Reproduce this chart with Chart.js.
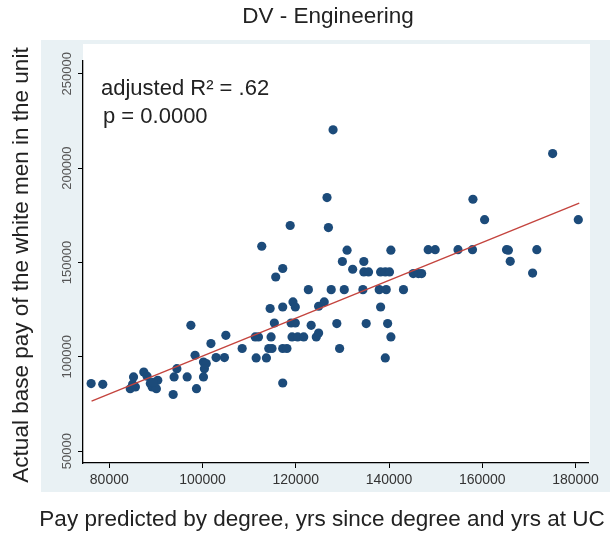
<!DOCTYPE html>
<html>
<head>
<meta charset="utf-8">
<title>DV - Engineering</title>
<script src="https://cdn.jsdelivr.net/npm/chart.js@4.4.1/dist/chart.umd.min.js"></script>
<style>
  html, body { margin: 0; padding: 0; background: #fff; }
  #wrap { width: 610px; height: 534px; }
</style>
</head>
<body>
<div id="wrap"><canvas id="chart" width="610" height="534"></canvas></div>
<script>
// --- data ---
const predictedPay = [
  76100, 78600, 85200, 84500, 85600, 85000, 87400, 88100, 88800, 89200,
  90400, 90100, 89400, 93700, 93900, 94500, 96700, 97500, 98400, 98700,
  100200, 100800, 100400, 100200, 101800, 102900, 104700, 105000, 108500, 111500,
  111300, 112000, 112700, 113700, 114200, 114500, 114700, 114900, 115400, 115700,
  117200, 117200, 117200, 118100, 117200, 118800, 119400, 119900, 119000, 119900,
  119200, 120400, 121700, 122700, 123300, 124400, 124900, 124900, 126100, 126700,
  127000, 127600, 128000, 128800, 129400, 130000, 130400, 131000, 132200, 134400,
  134600, 134600, 135600, 135100, 137900, 138200, 138200, 139200, 140100, 139200,
  139400, 139700, 140400, 140400, 143100, 145200, 146300, 147000, 148400, 149900,
  154800, 157900, 158000, 160500, 165200, 165600, 166000, 170800, 171700, 175100,
  180600
];
const actualPay = [
  85800, 85400, 89300, 83100, 84000, 85500, 91900, 89700, 85800, 84000,
  87500, 83100, 86500, 80000, 89300, 93700, 89300, 116700, 100800, 83100,
  97200, 96400, 93700, 89300, 107000, 99600, 99600, 111400, 104400, 99400,
  110500, 110500, 158600, 99400, 104400, 125600, 110500, 104400, 117900, 142300,
  146800, 126400, 104400, 104400, 86100, 169600, 129100, 126400, 117900, 117900,
  110500, 110500, 110500, 135600, 116700, 110500, 112600, 126800, 129100, 184400,
  168500, 135600, 220300, 117600, 104400, 150500, 135600, 156500, 146400, 135600,
  150500, 145000, 145000, 117600, 135600, 126400, 145000, 145000, 145000, 99400,
  135600, 117600, 156500, 110500, 135600, 144100, 144100, 144100, 156800, 156800,
  156800, 156800, 183500, 172700, 156800, 156500, 150600, 144400, 156800, 207700,
  172700
];
// fitted regression line, end points
const fitX = [76200, 180800];
const fitY = [76500, 181500];

const xTicks = [80000, 100000, 120000, 140000, 160000, 180000];
const yTicks = [50000, 100000, 150000, 200000, 250000];

const chartTitle = 'DV - Engineering';
const xTitle = 'Pay predicted by degree, yrs since degree and yrs at UC';
const yTitle = 'Actual base pay of the white men in the unit';
const statLines = ['adjusted R\u00b2 = .62', 'p = 0.0000'];

const FONT = "'Liberation Sans', Arial, Helvetica, sans-serif";
const NARROW = "'Liberation Sans Narrow', 'Liberation Sans', Arial, sans-serif";

// --- Stata-like graph region behind the plot ---
const backdrop = {
    id: 'backdrop',
    beforeDraw(chart) {
        const { ctx, chartArea: a } = chart;
        ctx.save();
        ctx.fillStyle = '#ffffff';
        ctx.fillRect(0, 0, chart.width, chart.height);
        ctx.fillStyle = '#e9f1f4';
        ctx.fillRect(41, 40, chart.width - 41, 452);
        ctx.fillStyle = '#ffffff';
        ctx.fillRect(a.left, 44, 590 - a.left, a.bottom - 44);
        ctx.restore();
    }
};

// --- titles and the fit statistics ---
const labels = {
    id: 'labels',
    afterDraw(chart) {
        const ctx = chart.ctx;
        ctx.save();
        ctx.fillStyle = '#222';
        ctx.textBaseline = 'middle';

        ctx.font = `22.5px ${FONT}`;
        ctx.textAlign = 'center';
        ctx.fillText(chartTitle, 328, 17);
        ctx.fillText(xTitle, 322, 520);

        ctx.save();
        ctx.translate(22, 265);
        ctx.rotate(-Math.PI / 2);
        ctx.fillText(yTitle, 0, 0);
        ctx.restore();

        ctx.font = `22px ${FONT}`;
        ctx.textAlign = 'left';
        ctx.fillText(statLines[0], 101, 89);
        ctx.fillText(statLines[1], 103, 117);
        ctx.restore();
    }
};

const points = predictedPay.map((x, i) => ({ x: x, y: actualPay[i] }));
const fitLine = fitX.map((x, i) => ({ x: x, y: fitY[i] }));

new Chart(document.getElementById('chart'), {
    type: 'scatter',
    data: {
        datasets: [
            {
                type: 'line',
                data: fitLine,
                borderColor: '#c4443e',
                borderWidth: 1.4,
                pointRadius: 0,
                fill: false
            },
            {
                data: points,
                backgroundColor: '#1c4b7a',
                borderWidth: 0,
                pointRadius: 4.6
            }
        ]
    },
    options: {
        responsive: false,
        devicePixelRatio: 1,
        animation: false,
        events: [],
        layout: { padding: { top: 61, right: 22, bottom: 0, left: 0 } },
        plugins: {
            legend: { display: false },
            title: { display: false },
            tooltip: { enabled: false }
        },
        scales: {
            x: {
                type: 'linear',
                min: 74360,
                max: 182680,
                afterBuildTicks: s => { s.ticks = xTicks.map(v => ({ value: v })); },
                afterFit: s => { s.height = 71; },
                ticks: {
                    color: '#333',
                    font: { family: NARROW, size: 14 },
                    padding: 4,
                    maxRotation: 0,
                    callback: v => String(v)
                },
                grid: { display: true, drawOnChartArea: false, drawTicks: true, tickLength: 5, color: '#000' },
                border: { display: true, color: '#000', width: 1.3 }
            },
            y: {
                type: 'linear',
                min: 43690,
                max: 256800,
                afterBuildTicks: s => { s.ticks = yTicks.map(v => ({ value: v })); },
                afterFit: s => { s.width = 83; },
                ticks: {
                    color: '#555',
                    font: { family: NARROW, size: 13 },
                    minRotation: 90,
                    maxRotation: 90,
                    crossAlign: 'center',
                    padding: -11,
                    callback: v => String(v)
                },
                grid: { display: true, drawOnChartArea: false, drawTicks: true, tickLength: 5, color: '#000' },
                border: { display: true, color: '#000', width: 1.3 }
            }
        }
    },
    plugins: [backdrop, labels]
});
</script>
</body>
</html>
